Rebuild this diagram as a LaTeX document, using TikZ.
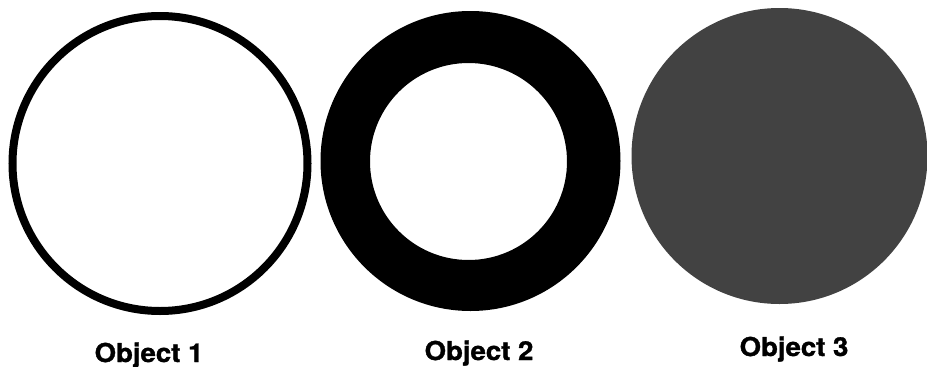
\documentclass[tikz,border=0pt]{standalone}
\usepackage{fontspec}
\setmainfont{TeX Gyre Heros}[BoldFeatures={FakeBold=1.2,FakeStretch=1.06}]
\begin{document}
\begin{tikzpicture}[x=1pt,y=-1pt,
  lbl/.style={font=\fontsize{26}{30}\selectfont\bfseries, inner sep=0pt, anchor=base}]
\useasboundingbox[fill=white] (0,0) rectangle (927,367);
% Object 1
\draw[line width=8pt] (160,163.5) circle[radius=147.5];
% Object 2
\fill[black, even odd rule] (470.5,161) circle[radius=150] (468.5,161.5) circle[radius=98.5];
% Object 3
\fill[black!74] (779.5,156) circle[radius=148];
\node[lbl] (l1) at (149,362) {Object 1};
\node[lbl] (l2) at (479,360) {Object 2};
\node[lbl] (l3) at (794,356) {Object 3};
\end{tikzpicture}
\end{document}
